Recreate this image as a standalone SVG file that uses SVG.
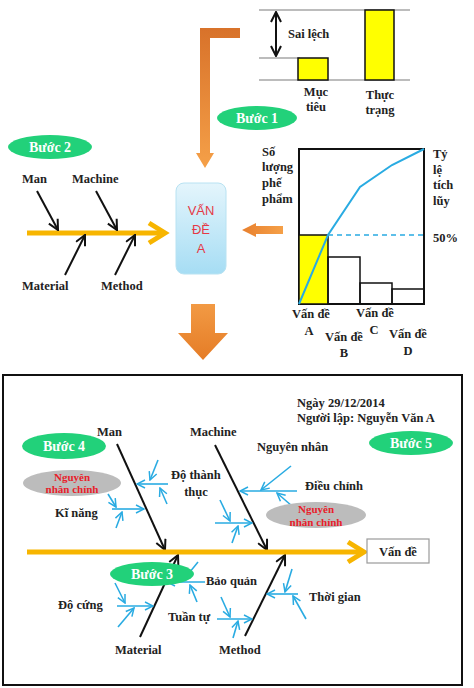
<svg xmlns="http://www.w3.org/2000/svg" width="474" height="688" viewBox="0 0 474 688">
<defs>
<style>
.t{font-family:"Liberation Serif","Times New Roman",serif;font-weight:bold;font-size:12.5px;fill:#222}
.w{font-family:"Liberation Serif","Times New Roman",serif;font-weight:bold;font-size:14px;fill:#fff;text-anchor:middle}
.r{font-family:"Liberation Serif","Times New Roman",serif;font-weight:bold;font-size:11px;fill:#e8202a;text-anchor:middle}
.m{text-anchor:middle}
.g{fill:#22d17a}
.gr{fill:#bcbcbc}
.blk{stroke:#111;stroke-width:2;fill:none;marker-end:url(#ah)}
.blu{stroke:#29abe2;stroke-width:1.6;fill:none;marker-end:url(#bh)}
.yl{stroke:#f7b500;stroke-width:5;fill:none}
.gl{stroke:#a6a6a6;stroke-width:1.5}
.bar{stroke:#111;stroke-width:1.5}
</style>
<marker id="ah" markerUnits="userSpaceOnUse" markerWidth="12" markerHeight="12" refX="10" refY="5" orient="auto" viewBox="-1 -1 12 12">
<path d="M0,0 L10,5 L0,10" fill="none" stroke="#111" stroke-width="2"/>
</marker>
<marker id="ah2" markerUnits="userSpaceOnUse" markerWidth="12" markerHeight="12" refX="10" refY="5" orient="auto-start-reverse" viewBox="-1 -1 12 12">
<path d="M0,0 L10,5 L0,10" fill="none" stroke="#111" stroke-width="2"/>
</marker>
<marker id="bh" markerUnits="userSpaceOnUse" markerWidth="10" markerHeight="10" refX="8" refY="4" orient="auto" viewBox="-1 -1 10 10">
<path d="M0,0 L8,4 L0,8" fill="none" stroke="#29abe2" stroke-width="1.5"/>
</marker>
<linearGradient id="og" x1="0" y1="0" x2="0" y2="1">
<stop offset="0" stop-color="#d8722a"/>
<stop offset="1" stop-color="#f5a048"/>
</linearGradient>
<linearGradient id="og2" x1="0" y1="0" x2="1" y2="0">
<stop offset="0" stop-color="#e8802e"/>
<stop offset="1" stop-color="#f5a048"/>
</linearGradient>
<linearGradient id="og3" x1="0" y1="0" x2="0" y2="1">
<stop offset="0" stop-color="#f29a44"/>
<stop offset="1" stop-color="#e57c26"/>
</linearGradient>
<linearGradient id="bg" x1="0" y1="0" x2="0" y2="1">
<stop offset="0" stop-color="#e4f5fc"/>
<stop offset="1" stop-color="#a6ddf4"/>
</linearGradient>
</defs>
<rect width="474" height="688" fill="#fff"/>

<!-- Step 1 top chart -->
<g id="gap-chart">
<line class="gl" x1="259" y1="10" x2="410" y2="10"/>
<line class="gl" x1="259" y1="58" x2="300" y2="58"/>
<line class="gl" x1="259" y1="80" x2="410" y2="80"/>
<line x1="276" y1="12" x2="276" y2="56" stroke="#111" stroke-width="2" marker-start="url(#ah2)" marker-end="url(#ah)"/>
<rect class="bar" x="298" y="58" width="30" height="22" fill="#ffff00"/>
<rect class="bar" x="365" y="10" width="29" height="70" fill="#ffff00"/>
<text class="t" x="288" y="38">Sai lệch</text>
<text class="t m" x="316" y="96">Mục</text>
<text class="t m" x="316" y="111">tiêu</text>
<text class="t m" x="380" y="99">Thực</text>
<text class="t m" x="380" y="114">trạng</text>
</g>

<g id="step1"><ellipse class="g" cx="257" cy="118" rx="40" ry="12"/><text class="w" x="257" y="123">Bước 1</text></g>
<g id="step2"><ellipse class="g" cx="50" cy="147" rx="42" ry="12"/><text class="w" x="50" y="152">Bước 2</text></g>

<!-- Problem box -->
<g id="problem-a">
<rect x="176" y="183" width="50" height="91" rx="8" fill="url(#bg)" stroke="#b8e2f2" stroke-width="1"/>
<g font-family="Liberation Sans, Arial, sans-serif" font-size="13" fill="#e53945" text-anchor="middle">
<text x="201" y="215">VẤN</text>
<text x="201" y="234">ĐỀ</text>
<text x="201" y="253">A</text>
</g>
</g>

<!-- Pareto chart -->
<g id="pareto">
<rect x="299" y="149" width="125" height="155" fill="none" stroke="#111" stroke-width="2"/>
<rect class="bar" x="299" y="235" width="29" height="69" fill="#ffff00"/>
<rect class="bar" x="328" y="257" width="32" height="47" fill="none"/>
<rect class="bar" x="360" y="283" width="32" height="21" fill="none"/>
<rect class="bar" x="392" y="289" width="32" height="15" fill="none"/>
<polyline points="299,304 328,235 360,187 392,165 424,149" fill="none" stroke="#29abe2" stroke-width="2"/>
<line x1="328" y1="235" x2="424" y2="235" stroke="#29abe2" stroke-width="1.6" stroke-dasharray="5,4"/>
<text class="t" x="262" y="156">Số</text>
<text class="t" x="262" y="171">lượng</text>
<text class="t" x="262" y="187">phế</text>
<text class="t" x="262" y="203">phẩm</text>
<text class="t" x="433" y="158">Tỷ</text>
<text class="t" x="433" y="174">lệ</text>
<text class="t" x="433" y="189">tích</text>
<text class="t" x="433" y="205">lũy</text>
<text class="t" x="433" y="242">50%</text>
<text class="t m" x="311" y="318">Vấn đề</text>
<text class="t m" x="309" y="335">A</text>
<text class="t m" x="344" y="341">Vấn đề</text>
<text class="t m" x="344" y="357">B</text>
<text class="t m" x="375" y="317">Vấn đề</text>
<text class="t m" x="374" y="334">C</text>
<text class="t m" x="408" y="338">Vấn đề</text>
<text class="t m" x="408" y="355">D</text>
</g>

<!-- Top-left fishbone -->
<g id="fishbone-small">
<line class="yl" x1="27" y1="233" x2="163" y2="233"/>
<polyline class="yl" points="149,223 165,233 149,243"/>
<text class="t" x="22" y="183">Man</text>
<text class="t" x="72" y="183">Machine</text>
<text class="t" x="22" y="290">Material</text>
<text class="t" x="101" y="290">Method</text>
</g>

<g id="connectors">
<!-- orange arrows -->
<path d="M240,28 L200,28 L200,153 L196,153 L205,168 L214,153 L210,153 L210,38 L240,38 Z" fill="url(#og)"/>
<path d="M283,226 L256,226 L256,223 L242,230 L256,237 L256,234 L283,234 Z" fill="url(#og2)"/>
<path d="M191,304 L215,304 L215,333 L228,333 L203,360 L178,333 L191,333 Z" fill="url(#og3)"/>
<!-- small fishbone arrows -->
<line class="blk" x1="37" y1="191" x2="58" y2="230"/>
<line class="blk" x1="96" y1="191" x2="117" y2="230"/>
<line class="blk" x1="65" y1="275" x2="85" y2="235"/>
<line class="blk" x1="115" y1="275" x2="135" y2="235"/>
<!-- bottom fishbone bones -->
<line class="blk" x1="117" y1="444" x2="165" y2="550"/>
<line class="blk" x1="215" y1="445" x2="267" y2="550"/>
<line class="blk" x1="140" y1="637" x2="178" y2="555"/>
<line class="blk" x1="245" y1="636" x2="285" y2="555"/>
<!-- blue cause arrows -->
<line class="blu" x1="168" y1="484" x2="137" y2="484"/>
<line class="blu" x1="158" y1="460" x2="150" y2="480"/>
<line class="blu" x1="167" y1="504" x2="160" y2="488"/>
<line class="blu" x1="112" y1="509" x2="144" y2="509"/>
<line class="blu" x1="108" y1="494" x2="116" y2="507"/>
<line class="blu" x1="116" y1="528" x2="122" y2="512"/>
<line class="blu" x1="297" y1="491" x2="240" y2="491"/>
<line class="blu" x1="291" y1="466" x2="261" y2="490"/>
<line class="blu" x1="292" y1="506" x2="277" y2="493"/>
<line class="blu" x1="215" y1="523" x2="252" y2="523"/>
<line class="blu" x1="220" y1="500" x2="230" y2="521"/>
<line class="blu" x1="232" y1="543" x2="238" y2="526"/>
<line class="blu" x1="117" y1="606" x2="153" y2="606"/>
<line class="blu" x1="115" y1="583" x2="125" y2="603"/>
<line class="blu" x1="118" y1="627" x2="134" y2="608"/>
<line class="blu" x1="205" y1="582" x2="167" y2="582"/>
<line class="blu" x1="198" y1="562" x2="185" y2="578"/>
<line class="blu" x1="197" y1="602" x2="190" y2="585"/>
<line class="blu" x1="217" y1="619" x2="252" y2="619"/>
<line class="blu" x1="221" y1="597" x2="230" y2="617"/>
<line class="blu" x1="233" y1="638" x2="238" y2="621"/>
<line class="blu" x1="298" y1="594" x2="267" y2="594"/>
<line class="blu" x1="292" y1="569" x2="285" y2="592"/>
<line class="blu" x1="306" y1="619" x2="293" y2="596"/>
</g>

<!-- Bottom panel -->
<g id="panel">
<rect x="3" y="375" width="459" height="310" fill="none" stroke="#111" stroke-width="2"/>
<line class="yl" x1="27" y1="552" x2="362" y2="552"/>
<polyline class="yl" points="348,542 364,552 348,562"/>
<text class="t" x="297" y="407">Ngày 29/12/2014</text>
<text class="t" x="297" y="422">Người lập: Nguyễn Văn A</text>
<text class="t" x="97" y="436">Man</text>
<text class="t" x="190" y="436">Machine</text>
<text class="t" x="257" y="451">Nguyên nhân</text>
<text class="t" x="171" y="479">Độ thành</text>
<text class="t m" x="196" y="496">thục</text>
<text class="t" x="305" y="490">Điều chỉnh</text>
<text class="t" x="55" y="517">Kĩ năng</text>
<text class="t" x="206" y="585">Bảo quản</text>
<text class="t" x="309" y="601">Thời gian</text>
<text class="t" x="58" y="609">Độ cứng</text>
<text class="t" x="168" y="621">Tuần tự</text>
<text class="t" x="115" y="654">Material</text>
<text class="t" x="219" y="654">Method</text>
</g>

<g id="effect-box">
<rect x="367" y="539" width="62" height="24" fill="#fff" stroke="#9a9a9a" stroke-width="1.2"/>
<text class="t m" x="398" y="556">Vấn đề</text>
</g>

<g id="step4"><ellipse class="g" cx="64" cy="446" rx="42" ry="13"/><text class="w" x="64" y="451">Bước 4</text></g>
<g id="main-cause-1"><ellipse class="gr" cx="72" cy="483" rx="49" ry="13"/><text class="r" x="72" y="481">Nguyên</text><text class="r" x="72" y="493">nhân chính</text></g>
<g id="main-cause-2"><ellipse class="gr" cx="316" cy="515" rx="50" ry="13"/><text class="r" x="316" y="513">Nguyên</text><text class="r" x="316" y="526">nhân chính</text></g>
<g id="step5"><ellipse class="g" cx="411" cy="443" rx="42" ry="12"/><text class="w" x="411" y="448">Bước 5</text></g>
<g id="step3"><ellipse class="g" cx="152" cy="574" rx="42" ry="12"/><text class="w" x="152" y="579">Bước 3</text></g>
</svg>
